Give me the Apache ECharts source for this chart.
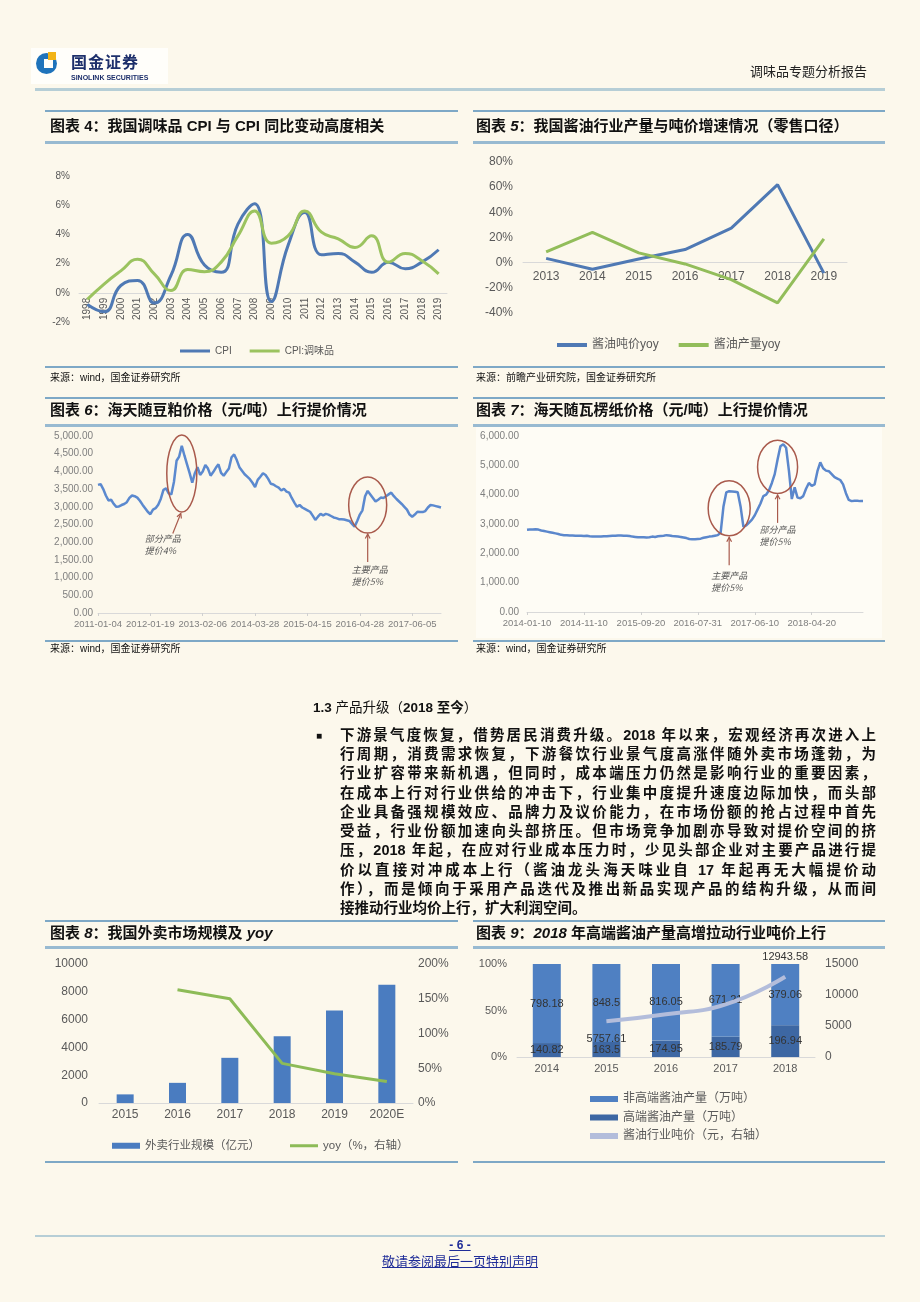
<!DOCTYPE html>
<html>
<head>
<meta charset="utf-8">
<script src="https://cdn.jsdelivr.net/npm/echarts@6/dist/echarts.min.js"></script>
<style>
html,body{margin:0;padding:0;}
body{width:920px;height:1302px;background:#fcf8ec;position:relative;overflow:hidden;font-family:"Liberation Sans","Noto Sans CJK SC",sans-serif;color:#111;}
#chart{position:absolute;left:0;top:0;width:920px;height:1302px;z-index:1;}
.ln{position:absolute;}
.t1{height:2px;background:#7ea8c6;}
.t2{height:3px;background:#98bad1;}
.title{position:absolute;font-size:15px;font-weight:bold;color:#111;white-space:nowrap;line-height:18px;z-index:2;}
.title i{font-style:italic;}
.src{position:absolute;font-size:10px;color:#111;line-height:12px;white-space:nowrap;z-index:2;}
.pl{position:absolute;left:340px;width:536px;font-size:14.5px;font-weight:bold;line-height:19px;text-align:justify;text-align-last:justify;color:#111;z-index:2;}
.txt{position:absolute;white-space:nowrap;z-index:2;}
</style>
</head>
<body>
<!-- header -->
<div class="ln" style="left:31px;top:48px;width:137px;height:36px;background:#fffefa;"></div>
<div class="ln" style="left:36px;top:53px;width:21px;height:21px;border-radius:50%;background:#1f73bb;"></div>
<div class="ln" style="left:44px;top:59px;width:9px;height:9px;background:#fffefa;"></div>
<div class="ln" style="left:48px;top:52px;width:8px;height:8px;background:#f2b316;"></div>
<div class="txt" style="left:71px;top:53px;font-size:16px;font-weight:bold;color:#1d2f6b;line-height:20px;letter-spacing:1px;">国金证券</div>
<div class="txt" style="left:71px;top:73px;font-size:7px;font-weight:bold;color:#1d2f6b;line-height:9px;">SINOLINK SECURITIES</div>
<div class="txt" style="left:750px;top:64px;font-size:13px;color:#222;line-height:16px;">调味品专题分析报告</div>
<div class="ln" style="left:35px;top:88px;width:850px;height:3px;background:#b6ced6;"></div>

<!-- chart 4/5 frame -->
<div class="ln t1" style="left:45px;top:110px;width:413px;"></div>
<div class="ln t2" style="left:45px;top:141px;width:413px;"></div>
<div class="ln t1" style="left:45px;top:366px;width:413px;"></div>
<div class="title" style="left:50px;top:117px;">图表 4：我国调味品 CPI 与 CPI 同比变动高度相关</div>
<div class="src" style="left:50px;top:372px;">来源：wind，国金证券研究所</div>

<div class="ln t1" style="left:473px;top:110px;width:412px;"></div>
<div class="ln t2" style="left:473px;top:141px;width:412px;"></div>
<div class="ln t1" style="left:473px;top:366px;width:412px;"></div>
<div class="title" style="left:476px;top:117px;">图表 <i>5</i>：我国酱油行业产量与吨价增速情况（零售口径）</div>
<div class="src" style="left:476px;top:372px;">来源：前瞻产业研究院，国金证券研究所</div>

<!-- chart 6/7 frame -->
<div class="ln t1" style="left:45px;top:397px;width:413px;"></div>
<div class="ln t2" style="left:45px;top:424px;width:413px;"></div>
<div class="ln t1" style="left:45px;top:640px;width:413px;"></div>
<div class="title" style="left:50px;top:401px;">图表 <i>6</i>：海天随豆粕价格（元/吨）上行提价情况</div>
<div class="src" style="left:50px;top:643px;">来源：wind，国金证券研究所</div>

<div class="ln" style="left:476px;top:427px;width:406px;height:211px;background:#fefcf5;"></div>
<div class="ln t1" style="left:473px;top:397px;width:412px;"></div>
<div class="ln t2" style="left:473px;top:424px;width:412px;"></div>
<div class="ln t1" style="left:473px;top:640px;width:412px;"></div>
<div class="title" style="left:476px;top:401px;">图表 <i>7</i>：海天随瓦楞纸价格（元/吨）上行提价情况</div>
<div class="src" style="left:476px;top:643px;">来源：wind，国金证券研究所</div>

<!-- text section -->
<div class="txt" style="left:313px;top:699px;font-size:13.5px;line-height:18px;color:#111;"><b>1.3</b> 产品升级（<b>2018 至今</b>）</div>
<div class="txt" style="left:316px;top:728px;font-size:10px;line-height:16px;">■</div>
<div class="pl" style="top:726px;">下游景气度恢复，借势居民消费升级。2018 年以来，宏观经济再次进入上</div>
<div class="pl" style="top:745px;">行周期，消费需求恢复，下游餐饮行业景气度高涨伴随外卖市场蓬勃，为</div>
<div class="pl" style="top:764px;">行业扩容带来新机遇，但同时，成本端压力仍然是影响行业的重要因素，</div>
<div class="pl" style="top:784px;">在成本上行对行业供给的冲击下，行业集中度提升速度边际加快，而头部</div>
<div class="pl" style="top:803px;">企业具备强规模效应、品牌力及议价能力，在市场份额的抢占过程中首先</div>
<div class="pl" style="top:822px;">受益，行业份额加速向头部挤压。但市场竞争加剧亦导致对提价空间的挤</div>
<div class="pl" style="top:841px;">压，2018 年起，在应对行业成本压力时，少见头部企业对主要产品进行提</div>
<div class="pl" style="top:861px;">价以直接对冲成本上行（酱油龙头海天味业自 17 年起再无大幅提价动</div>
<div class="pl" style="top:880px;">作），而是倾向于采用产品迭代及推出新品实现产品的结构升级，从而间</div>
<div class="pl" style="top:899px;text-align-last:left;">接推动行业均价上行，扩大利润空间。</div>

<!-- chart 8/9 frame -->
<div class="ln t1" style="left:45px;top:920px;width:413px;"></div>
<div class="ln t2" style="left:45px;top:946px;width:413px;"></div>
<div class="ln t1" style="left:45px;top:1161px;width:413px;"></div>
<div class="title" style="left:50px;top:924px;">图表 <i>8</i>：我国外卖市场规模及 <i>yoy</i></div>

<div class="ln t1" style="left:473px;top:920px;width:412px;"></div>
<div class="ln t2" style="left:473px;top:946px;width:412px;"></div>
<div class="ln t1" style="left:473px;top:1161px;width:412px;"></div>
<div class="title" style="left:476px;top:924px;">图表 <i>9</i>：<i>2018</i> 年高端酱油产量高增拉动行业吨价上行</div>

<!-- footer -->
<div class="ln" style="left:35px;top:1235px;width:850px;height:2px;background:#b6ced6;"></div>
<div class="txt" style="left:0;width:920px;text-align:center;top:1238px;font-size:12px;font-weight:bold;line-height:14px;color:#1f2c98;"><u>- 6 -</u></div>
<div class="txt" style="left:0;width:920px;text-align:center;top:1254px;font-size:13px;line-height:16px;color:#1f2c98;"><u>敬请参阅最后一页特别声明</u></div>

<div id="chart"></div>
<script>
// ---------- data ----------
const years4 = ['1998','1999','2000','2001','2002','2003','2004','2005','2006','2007','2008','2009','2010','2011','2012','2013','2014','2015','2016','2017','2018','2019'];
const cpi = [-0.8,-1.3,0.5,0.85,-0.7,1.2,4.0,1.9,1.4,4.7,6.1,-0.6,3.25,5.5,2.6,2.7,2.1,1.4,2.1,1.65,2.1,2.95];
const cpiCondiment = [-0.45,0.6,1.5,2.3,1.3,0.15,1.6,1.45,2.1,3.9,5.6,3.4,3.9,5.6,4.15,3.7,3.1,3.9,2.1,2.7,2.2,1.3];

const years5 = ['2013','2014','2015','2016','2017','2018','2019'];
const soyPriceYoy = [3.4,-5.2,2.9,10.4,27.5,62,-8.3];
const soyOutputYoy = [8.6,24,7.8,-1,-13.5,-32,19];

const beanTicks = ['2011-01-04','2012-01-19','2013-02-06','2014-03-28','2015-04-15','2016-04-28','2017-06-05'];
const beanPrice = [3620,3640,3500,3320,3180,3200,3080,3000,3010,3050,3080,3130,3250,3320,3300,3260,3170,3060,2960,2860,
  2790,2920,2960,3060,3230,3480,3520,3380,3350,3700,4300,4420,4720,4450,4200,3950,3680,3950,4120,3900,
  4000,4180,4080,3880,3980,4100,4200,3960,3880,3980,4080,4400,4480,4320,4120,4020,3920,3850,3780,3680,
  3560,3760,3850,3950,3900,3790,3650,3630,3580,3540,3460,3510,3430,3400,3250,3120,3000,3050,2980,2940,
  2900,2860,2750,2630,2720,2800,2760,2800,2780,2740,2700,2680,2650,2650,2640,2620,2600,2520,2440,2600,
  2780,2900,3300,3450,3350,3250,3150,3200,3260,3250,3300,3350,3400,3300,3220,3150,3080,3000,2920,2780,
  2720,2780,2860,2850,2850,2880,2980,3050,3040,3020,3000,2980];

const paperTicks = ['2014-01-10','2014-11-10','2015-09-20','2016-07-31','2017-06-10','2018-04-20'];
const paperPrice = [2800,2810,2810,2820,2810,2780,2760,2740,2720,2700,2680,2660,2630,2620,2620,2610,2610,2600,2600,2600,
  2590,2600,2580,2570,2570,2570,2570,2580,2580,2590,2600,2600,2610,2610,2600,2600,2590,2570,2560,2550,
  2550,2550,2540,2550,2570,2560,2580,2590,2600,2620,2610,2590,2580,2570,2560,2540,2520,2490,2480,2480,
  2490,2500,2530,2550,2570,2580,2600,2620,2700,3600,4080,4120,4110,4100,4080,3600,2900,2950,3050,3150,
  3300,3500,3700,3950,4000,4150,4400,4700,5200,5650,5720,5600,4800,3850,4250,3900,3880,3950,4200,4400,
  4300,4350,4800,5100,4900,4820,4800,4700,4600,4550,4500,4350,4050,3820,3780,3790,3790,3780,3780];

const years8 = ['2015','2016','2017','2018','2019','2020E'];
const deliveryScale = [620,1450,3250,4800,6650,8500];
const deliveryYoy = [null,163,150,57,42,31];

const years9 = ['2014','2015','2016','2017','2018'];
const nonPremium = [798.18,848.5,816.05,671.21,379.06];
const premium = [140.82,163.5,174.95,185.79,196.94];
const tonPrice = [null,5757.61,6900,8500,12943.58];
const tonPriceLabelled = [1,4];

// ---------- derived ----------
const totals9 = nonPremium.map((v,i)=>v+premium[i]);
const premiumPct = premium.map((v,i)=>v/totals9[i]*100);
const nonPremiumPct = nonPremium.map((v,i)=>v/totals9[i]*100);

const FONT = '"Liberation Sans","Noto Sans CJK SC",sans-serif';
const gray = '#595959';
const lightAxis = {lineStyle:{color:'#d9d9d9',width:1}};
const fmtMoney = v => v.toLocaleString('en-US',{minimumFractionDigits:2,maximumFractionDigits:2});
const plain = v => String(v);

// grids
const G = [
  {left:79, top:176, width:368, height:146},
  {left:523, top:162, width:324, height:151},
  {left:98, top:436, width:343, height:177},
  {left:527, top:436, width:336, height:176},
  {left:99, top:964, width:314, height:139},
  {left:517, top:964, width:298, height:93}
];
const y4 = {min:-2,max:8,interval:2};
const y5 = {min:-40,max:80,interval:20};
// put the category axis (line + labels) on the zero line
const zeroOffset = (g,y) => -g.height*(0-y.min)/(y.max-y.min);

const chart = echarts.init(document.getElementById('chart'));
const option = {
  animation:false,
  textStyle:{fontFamily:FONT},
  grid:G,
  xAxis:[
    {gridIndex:0,type:'category',data:years4,offset:zeroOffset(G[0],y4),axisLine:{onZero:false,...lightAxis},axisTick:{show:false},
      axisLabel:{rotate:90,fontSize:10,color:gray,margin:5,interval:0}},
    {gridIndex:1,type:'category',data:years5,offset:zeroOffset(G[1],y5),axisLine:{onZero:false,...lightAxis},axisTick:{show:false},
      axisLabel:{fontSize:12,color:gray,margin:8,interval:0}},
    {gridIndex:2,type:'value',min:0,max:beanPrice.length-1,interval:20,splitLine:{show:false},
      axisLine:{show:true,...lightAxis},axisTick:{show:true,length:3,lineStyle:{color:'#d0d0d0'}},
      axisLabel:{fontSize:9.5,color:'#7f7f7f',margin:7,showMaxLabel:false,formatter:v=> (v%20===0 && beanTicks[v/20]) ? beanTicks[v/20] : ''}},
    {gridIndex:3,type:'value',min:0,max:paperPrice.length-1,interval:20,splitLine:{show:false},
      axisLine:{show:true,...lightAxis},axisTick:{show:true,length:3,lineStyle:{color:'#d0d0d0'}},
      axisLabel:{fontSize:9.5,color:'#7f7f7f',margin:7,showMaxLabel:false,formatter:v=> (v%20===0 && paperTicks[v/20]) ? paperTicks[v/20] : ''}},
    {gridIndex:4,type:'category',data:years8,axisLine:{show:true,...lightAxis},axisTick:{show:false},
      axisLabel:{fontSize:12,color:gray,margin:6,interval:0}},
    {gridIndex:5,type:'category',data:years9,axisLine:{show:true,...lightAxis},axisTick:{show:false},
      axisLabel:{fontSize:11,color:gray,margin:6,interval:0}}
  ],
  yAxis:[
    {gridIndex:0,type:'value',...y4,splitLine:{show:false},axisLine:{show:false},axisTick:{show:false},
      axisLabel:{formatter:'{value}%',fontSize:10,color:gray,margin:9}},
    {gridIndex:1,type:'value',...y5,splitLine:{show:false},axisLine:{show:false},axisTick:{show:false},
      axisLabel:{formatter:'{value}%',fontSize:12,color:gray,margin:10}},
    {gridIndex:2,type:'value',min:0,max:5000,interval:500,splitLine:{show:false},axisLine:{show:false},axisTick:{show:false},
      axisLabel:{formatter:fmtMoney,fontSize:10,color:'#7f7f7f',margin:5}},
    {gridIndex:3,type:'value',min:0,max:6000,interval:1000,splitLine:{show:false},axisLine:{show:false},axisTick:{show:false},
      axisLabel:{formatter:fmtMoney,fontSize:10,color:'#7f7f7f',margin:8}},
    {gridIndex:4,type:'value',min:0,max:10000,interval:2000,splitLine:{show:false},axisLine:{show:false},axisTick:{show:false},
      axisLabel:{formatter:plain,fontSize:12,color:gray,margin:11}},
    {gridIndex:4,type:'value',position:'right',min:0,max:200,interval:50,splitLine:{show:false},axisLine:{show:false},axisTick:{show:false},
      axisLabel:{formatter:'{value}%',fontSize:12,color:gray,margin:5}},
    {gridIndex:5,type:'value',min:0,max:100,interval:50,splitLine:{show:false},axisLine:{show:false},axisTick:{show:false},
      axisLabel:{formatter:'{value}%',fontSize:11,color:gray,margin:10}},
    {gridIndex:5,type:'value',position:'right',min:0,max:15000,interval:5000,splitLine:{show:false},axisLine:{show:false},axisTick:{show:false},
      axisLabel:{formatter:plain,fontSize:12,color:gray,margin:10}}
  ],
  legend:[
    {top:341,left:175,itemWidth:30,itemHeight:3,itemGap:18,icon:'rect',textStyle:{fontSize:10,color:gray},data:['CPI','CPI:调味品']},
    {top:334,left:552,itemWidth:30,itemHeight:4,itemGap:20,icon:'rect',textStyle:{fontSize:12,color:gray},data:['酱油吨价yoy','酱油产量yoy']},
    {top:1135,left:107,itemWidth:28,itemHeight:6,icon:'rect',textStyle:{fontSize:11.5,color:gray},data:['外卖行业规模（亿元）']},
    {top:1135,left:285,itemWidth:28,itemHeight:3,icon:'rect',textStyle:{fontSize:11.5,color:gray},data:['yoy（%，右轴）']},
    {top:1088,left:585,orient:'vertical',itemWidth:28,itemHeight:6,itemGap:6.5,icon:'rect',textStyle:{fontSize:12,color:gray},
      data:['非高端酱油产量（万吨）','高端酱油产量（万吨）','酱油行业吨价（元，右轴）']}
  ],
  series:[
    {name:'CPI',type:'line',xAxisIndex:0,yAxisIndex:0,data:cpi,smooth:true,showSymbol:false,
      itemStyle:{color:'#4f79b4'},lineStyle:{color:'#4f79b4',width:3}},
    {name:'CPI:调味品',type:'line',xAxisIndex:0,yAxisIndex:0,data:cpiCondiment,smooth:true,showSymbol:false,
      itemStyle:{color:'#9bc35f'},lineStyle:{color:'#9bc35f',width:3}},
    {name:'酱油吨价yoy',type:'line',xAxisIndex:1,yAxisIndex:1,data:soyPriceYoy,showSymbol:false,
      itemStyle:{color:'#4f79b4'},lineStyle:{color:'#4f79b4',width:3}},
    {name:'酱油产量yoy',type:'line',xAxisIndex:1,yAxisIndex:1,data:soyOutputYoy,showSymbol:false,
      itemStyle:{color:'#92bd5a'},lineStyle:{color:'#92bd5a',width:3}},
    {name:'豆粕价格',type:'line',xAxisIndex:2,yAxisIndex:2,data:beanPrice.map((v,i)=>[i,v]),showSymbol:false,
      itemStyle:{color:'#5b89cf'},lineStyle:{color:'#5b89cf',width:2.5}},
    {name:'瓦楞纸价格',type:'line',xAxisIndex:3,yAxisIndex:3,data:paperPrice.map((v,i)=>[i,v]),showSymbol:false,
      itemStyle:{color:'#5b87cc'},lineStyle:{color:'#5b87cc',width:2.5}},
    {name:'外卖行业规模（亿元）',type:'bar',xAxisIndex:4,yAxisIndex:4,data:deliveryScale,barWidth:17,
      itemStyle:{color:'#4a7cc0'}},
    {name:'yoy（%，右轴）',type:'line',xAxisIndex:4,yAxisIndex:5,data:deliveryYoy,showSymbol:false,
      itemStyle:{color:'#8dbb57'},lineStyle:{color:'#8dbb57',width:3}},
    {name:'高端酱油产量（万吨）',type:'bar',xAxisIndex:5,yAxisIndex:6,stack:'s9',data:premiumPct,barWidth:28,
      itemStyle:{color:'#3d67a3'},
      label:{show:true,position:'inside',fontSize:11,color:'#333',formatter:p=>String(premium[p.dataIndex])}},
    {name:'非高端酱油产量（万吨）',type:'bar',xAxisIndex:5,yAxisIndex:6,stack:'s9',data:nonPremiumPct,barWidth:28,
      itemStyle:{color:'#4f80c2'},
      label:{show:true,position:'inside',fontSize:11,color:'#333',formatter:p=>String(nonPremium[p.dataIndex])}},
    {name:'酱油行业吨价（元，右轴）',type:'line',xAxisIndex:5,yAxisIndex:7,smooth:true,showSymbol:true,symbol:'circle',symbolSize:0.1,
      itemStyle:{color:'#b3bddb'},lineStyle:{color:'#b3bddb',width:4},z:5,
      data:tonPrice.map((v,i)=>({value:v,label:{show:tonPriceLabelled.includes(i),position:i===1?'bottom':'top',distance:i===1?12:14,fontSize:11,color:'#333',formatter:p=>String(p.value)}}))}
  ]
};
chart.setOption(option);

// ---------- annotations anchored to data coordinates ----------
const annColor = '#a95a4c';
function px(g,pt){return chart.convertToPixel({gridIndex:g},pt);}
function ell(c,rx,ry){return {type:'ellipse',silent:true,z:10,shape:{cx:c[0],cy:c[1],rx:rx,ry:ry},style:{fill:'none',stroke:annColor,lineWidth:1.5}};}
function arrow(from,to){
  const a=Math.atan2(to[1]-from[1],to[0]-from[0]);
  const L=5,w=0.5;
  const p1=[to[0]-L*Math.cos(a-w),to[1]-L*Math.sin(a-w)];
  const p2=[to[0]-L*Math.cos(a+w),to[1]-L*Math.sin(a+w)];
  return [
    {type:'line',silent:true,z:10,shape:{x1:from[0],y1:from[1],x2:to[0],y2:to[1]},style:{stroke:annColor,lineWidth:1.2}},
    {type:'polyline',silent:true,z:10,shape:{points:[p1,to,p2]},style:{stroke:annColor,lineWidth:1.2,fill:'none'}}
  ];
}
function note(x,y,t){return {type:'text',silent:true,z:10,x:x,y:y,style:{text:t,font:'italic 9px "Noto Sans CJK SC"',fill:'#555',lineHeight:12}};}
const g=[];
const c1=px(2,[32,3941]);
g.push(ell(c1,15,38.5),...arrow([c1[0]-9,c1[1]+60],[c1[0]-1,c1[1]+40]),note(c1[0]-37,c1[1]+59,'部分产品\n提价4%'));
const c2=px(2,[103,3049]);
g.push(ell(c2,19,28),...arrow([c2[0],c2[1]+57],[c2[0],c2[1]+29]),note(c2[0]-16,c2[1]+59,'主要产品\n提价5%'));
const c3=px(3,[71,3533]);
g.push(ell(c3,21,27.5),...arrow([c3[0],c3[1]+57],[c3[0],c3[1]+29]),note(c3[0]-18,c3[1]+61,'主要产品\n提价5%'));
const c4=px(3,[88,4947]);
g.push(ell(c4,20,26.7),...arrow([c4[0],c4[1]+56],[c4[0],c4[1]+28]),note(c4[0]-18,c4[1]+57,'部分产品\n提价5%'));
chart.setOption({graphic:g});
</script>
</body>
</html>
